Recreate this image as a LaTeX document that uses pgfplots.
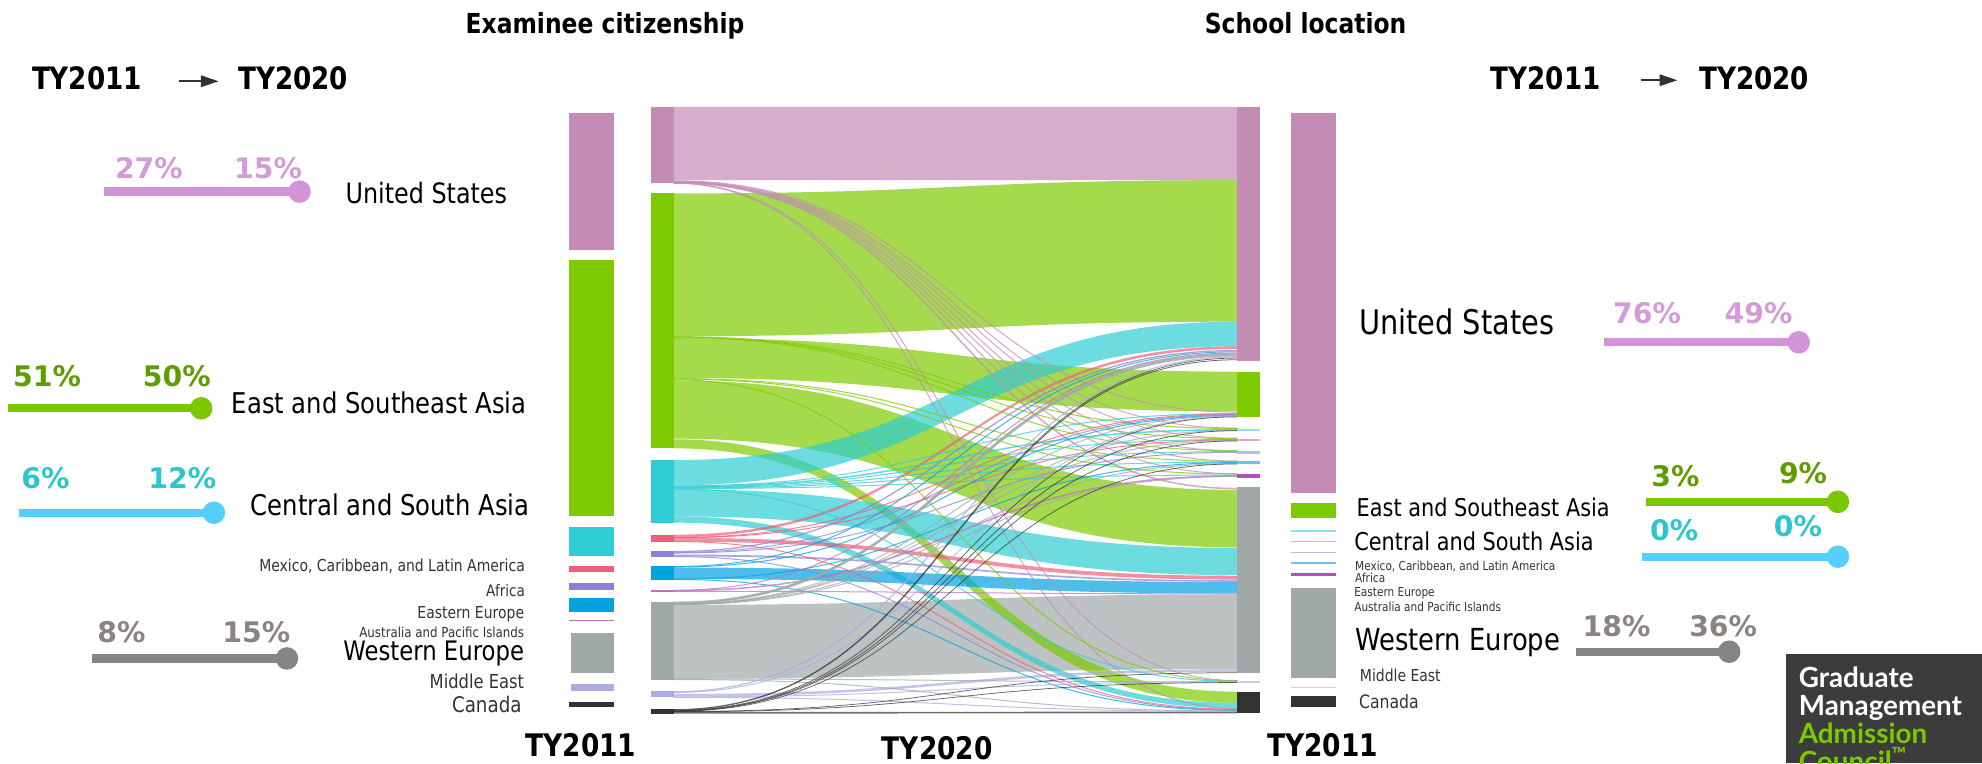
\documentclass[border=0pt]{standalone}
\usepackage{pgfplots}
\pgfplotsset{compat=1.18}
\usepackage{fontspec}
\setmainfont{DejaVu Sans}
\newfontfamily\lab[FakeStretch=0.85]{DejaVu Sans}
\newfontfamily\logof{Lato}
\usetikzlibrary{arrows.meta}

\definecolor{cUS}{HTML}{C48BB5}
\definecolor{cESA}{HTML}{7DCA00}
\definecolor{cCSA}{HTML}{2ECDD3}
\definecolor{cMEX}{HTML}{EE5F78}
\definecolor{cAFR}{HTML}{8B82D6}
\definecolor{cEE}{HTML}{02A3DF}
\definecolor{cAUS}{HTML}{C070C0}
\definecolor{cWE}{HTML}{A0A9A8}
\definecolor{cME}{HTML}{ABABE2}
\definecolor{cCA}{HTML}{333333}
\definecolor{lUS}{HTML}{D194D6}
\definecolor{lESA}{HTML}{7BC700}
\definecolor{lCSA}{HTML}{55CFFF}
\definecolor{lWE}{HTML}{858585}
\definecolor{tUS}{HTML}{D49BD8}
\definecolor{tESA}{HTML}{5E9C00}
\definecolor{tCSA}{HTML}{2DC6D0}
\definecolor{tWE}{HTML}{8B8282}
\definecolor{logo}{HTML}{3B3C3C}
\definecolor{gmac}{HTML}{7DC800}
\definecolor{pCSA}{HTML}{8EE3EC}
\definecolor{pMEX}{HTML}{F2A5B4}
\definecolor{pAFR}{HTML}{BDB7EC}
\definecolor{pEE}{HTML}{6DC3EC}
\definecolor{pAUS}{HTML}{B050C0}
\definecolor{pME}{HTML}{CBCBEF}

\makeatletter
\newdimen\sk@dim
\def\pgfplothandlersankey{%
  \def\pgf@plotstreamstart{%
    \global\let\pgf@plotstreampoint=\sk@firstpoint
    \global\let\pgf@plotstreamspecial=\pgfutil@gobble
    \global\let\pgf@plotstreamend=\pgfutil@empty
  }%
}
\def\sk@firstpoint#1{%
  \pgf@process{#1}%
  \xdef\sk@lastx{\the\pgf@x}\xdef\sk@lasty{\the\pgf@y}%
  \pgfpathmoveto{\pgfqpoint{\sk@lastx}{\sk@lasty}}%
  \global\let\pgf@plotstreampoint=\sk@nextpoint
}
\def\sk@nextpoint#1{%
  \pgf@process{#1}%
  \edef\sk@curx{\the\pgf@x}\edef\sk@cury{\the\pgf@y}%
  \sk@dim=\sk@lastx\relax
  \advance\sk@dim by \sk@curx\relax
  \divide\sk@dim by 2\relax
  \edef\sk@midx{\the\sk@dim}%
  \pgfpathcurveto{\pgfqpoint{\sk@midx}{\sk@lasty}}{\pgfqpoint{\sk@midx}{\sk@cury}}{\pgfqpoint{\sk@curx}{\sk@cury}}%
  \xdef\sk@lastx{\sk@curx}\xdef\sk@lasty{\sk@cury}%
}
\tikzset{sankey/.code={\let\tikz@plot@handler=\pgfplothandlersankey}}
\makeatother

\newcommand\F[1]{\fontsize{#1}{#1}\selectfont}

\pgfplotsset{
  nodebar/.style={fill=#1, draw=none},
  band/.style={sankey, fill=#1, fill opacity=0.7, draw=none},
  thinln/.style={sankey, draw=#1, line width=0.4pt, draw opacity=0.75},
  dbline/.style={color=#1, line width=3.3pt},
  dbdot/.style={only marks, mark=*, mark size=4.25pt, color=#1},
}

\begin{document}
\begin{tikzpicture}
\useasboundingbox (0,0) rectangle (784pt,302pt);
\clip (0,0) rectangle (784pt,302pt);
\begin{axis}[at={(0,0)}, anchor=south west, scale only axis,
  width=784pt, height=302pt,
  xmin=0, xmax=1568, ymin=0, ymax=604, y dir=reverse,
  hide axis, clip=false]

% ---------- flows: TY2020 citizenship (x=533) -> TY2020 school location (x=979)
\addplot[band=cWE]  coordinates {(533,478.5) (979,470.3) (979,529.3) (533,537) (533,478.5)};
\addplot[band=cUS]  coordinates {(533,84.5) (979,84.5) (979,142.5) (533,142.5) (533,84.5)};
\addplot[band=cESA] coordinates {(533,153) (979,142.5) (979,254.5) (533,266) (533,153)};
\addplot[band=cESA] coordinates {(533,267.5) (979,294) (979,325.5) (533,299) (533,267.5)};
\addplot[band=cESA] coordinates {(533,301) (979,387.6) (979,433) (533,347) (533,301)};
\addplot[band=cESA] coordinates {(533,347.5) (979,547.2) (979,556) (533,354.7) (533,347.5)};
\addplot[band=cCSA] coordinates {(533,364) (979,254.5) (979,274) (533,384) (533,364)};
\addplot[band=cCSA] coordinates {(533,387) (979,433.5) (979,455) (533,408.5) (533,387)};
\addplot[band=cCSA] coordinates {(533,408.5) (979,556) (979,560.3) (533,413.5) (533,408.5)};
\addplot[band=cMEX] coordinates {(533,423) (979,274) (979,276) (533,425) (533,423)};
\addplot[band=cMEX] coordinates {(533,425.5) (979,455.5) (979,458.5) (533,428.5) (533,425.5)};
\addplot[band=cAFR] coordinates {(533,438.7) (979,459) (979,460.3) (533,440.2) (533,438.7)};
\addplot[band=cEE]  coordinates {(533,449) (979,460.5) (979,469.5) (533,458) (533,449)};
\addplot[band=cME]  coordinates {(533,549) (979,529.5) (979,531.5) (533,551) (533,549)};
\addplot[band=cCA]  coordinates {(533,563.2) (979,563) (979,564.4) (533,564.5) (533,563.2)};

% ---------- thin flows
% United States citizens
\addplot[thinln=cUS] coordinates {(533,143) (979,326)};
\addplot[thinln=cUS] coordinates {(533,143.4) (979,338.7)};
\addplot[thinln=cUS] coordinates {(533,143.7) (979,346.7)};
\addplot[thinln=cUS] coordinates {(533,144) (979,356.7)};
\addplot[thinln=cUS] coordinates {(533,144.2) (979,364.7)};
\addplot[thinln=cUS] coordinates {(533,144.4) (979,374.8)};
\addplot[thinln=cUS, line width=0.6pt] coordinates {(533,144.6) (979,386.5)};
\addplot[thinln=cUS] coordinates {(533,144.8) (979,538.4)};
\addplot[thinln=cUS] coordinates {(533,145) (979,560.6)};
% East and Southeast Asia citizens
\addplot[thinln=cESA] coordinates {(533,266.3) (979,339)};
\addplot[thinln=cESA] coordinates {(533,266.7) (979,347)};
\addplot[thinln=cESA] coordinates {(533,267) (979,356.5)};
\addplot[thinln=cESA] coordinates {(533,299.5) (979,365)};
\addplot[thinln=cESA] coordinates {(533,300) (979,375)};
\addplot[thinln=cESA] coordinates {(533,300.5) (979,538.6)};
% Central and South Asia citizens
\addplot[thinln=cCSA] coordinates {(533,384.4) (979,327.2)};
\addplot[thinln=cCSA, line width=0.6pt] coordinates {(533,384.9) (979,340)};
\addplot[thinln=cCSA] coordinates {(533,385.3) (979,347.7)};
\addplot[thinln=cCSA] coordinates {(533,385.7) (979,357.3)};
\addplot[thinln=cCSA] coordinates {(533,386.1) (979,365.6)};
\addplot[thinln=cCSA] coordinates {(533,386.5) (979,375.8)};
\addplot[thinln=cCSA] coordinates {(533,386.8) (979,539)};
% Mexico, Caribbean, and Latin America citizens
\addplot[thinln=cMEX] coordinates {(533,425.2) (979,327.5)};
\addplot[thinln=cMEX] coordinates {(533,425.4) (979,348)};
\addplot[thinln=cMEX] coordinates {(533,428.4) (979,561)};
% Africa citizens
\addplot[thinln=cAFR, line width=0.5pt] coordinates {(533,436.3) (979,277.3)};
\addplot[thinln=cAFR] coordinates {(533,437) (979,328)};
\addplot[thinln=cAFR] coordinates {(533,437.5) (979,357.8)};
\addplot[thinln=cAFR] coordinates {(533,440.3) (979,561.5)};
% Eastern Europe citizens
\addplot[thinln=cEE] coordinates {(533,448.2) (979,278.3)};
\addplot[thinln=cEE] coordinates {(533,448.6) (979,328.6)};
\addplot[thinln=cEE] coordinates {(533,458.2) (979,366)};
\addplot[thinln=cEE] coordinates {(533,458.4) (979,562)};
% Australia and Pacific Islands citizens
\addplot[thinln=cAUS] coordinates {(533,467) (979,279.3)};
\addplot[thinln=cAUS, line width=0.6pt] coordinates {(533,467.3) (979,376.5)};
\addplot[thinln=cAUS] coordinates {(533,467.8) (979,469.8)};
% Western Europe citizens
\addplot[thinln=cWE, line width=0.6pt] coordinates {(533,476.5) (979,279.8)};
\addplot[thinln=cWE, line width=0.6pt] coordinates {(533,477) (979,280.6)};
\addplot[thinln=cWE, line width=0.6pt] coordinates {(533,477.5) (979,281.4)};
\addplot[thinln=cWE] coordinates {(533,477.8) (979,329)};
\addplot[thinln=cWE] coordinates {(533,478) (979,340.5)};
\addplot[thinln=cWE] coordinates {(533,478.1) (979,348.5)};
\addplot[thinln=cWE] coordinates {(533,478.2) (979,366.8)};
\addplot[thinln=cWE] coordinates {(533,478.3) (979,377)};
\addplot[thinln=cWE] coordinates {(533,537.2) (979,539.5)};
\addplot[thinln=cWE] coordinates {(533,537.6) (979,562.5)};
% Middle East citizens
\addplot[thinln=cME, line width=0.5pt] coordinates {(533,547.3) (979,282.3)};
\addplot[thinln=cME] coordinates {(533,547.8) (979,329.3)};
\addplot[thinln=cME] coordinates {(533,551.3) (979,539.3)};
\addplot[thinln=cME] coordinates {(533,551.7) (979,562.8)};
% Canada citizens
\addplot[thinln=cCA, line width=0.3pt] coordinates {(533,561.3) (979,283.3)};
\addplot[thinln=cCA, line width=0.3pt] coordinates {(533,561.7) (979,284.6)};
\addplot[thinln=cCA, line width=0.3pt] coordinates {(533,562) (979,329.8)};
\addplot[thinln=cCA, line width=0.3pt] coordinates {(533,562.3) (979,340.7)};
\addplot[thinln=cCA, line width=0.3pt] coordinates {(533,562.5) (979,348.8)};
\addplot[thinln=cCA, line width=0.3pt] coordinates {(533,562.7) (979,367)};
\addplot[thinln=cCA, line width=0.3pt] coordinates {(533,562.9) (979,532.2)};
\addplot[thinln=cCA, line width=0.3pt] coordinates {(533,563.1) (979,540)};

% ---------- node bars: TY2011 citizenship (left)
\addplot[nodebar=cUS]  coordinates {(450,89.7) (485.5,89.7) (485.5,197.8) (450,197.8)};
\addplot[nodebar=cESA] coordinates {(450,205.7) (485.5,205.7) (485.5,408) (450,408)};
\addplot[nodebar=cCSA] coordinates {(450,416.7) (485.5,416.7) (485.5,439.9) (450,439.9)};
\addplot[nodebar=cMEX] coordinates {(450,447.5) (485.5,447.5) (485.5,452.8) (450,452.8)};
\addplot[nodebar=cAFR] coordinates {(450,461) (485.5,461) (485.5,466.8) (450,466.8)};
\addplot[nodebar=cEE]  coordinates {(450,473.4) (485.5,473.4) (485.5,484) (450,484)};
\addplot[nodebar=cAUS] coordinates {(450,490.5) (485.5,490.5) (485.5,491.5) (450,491.5)};
\addplot[nodebar=cWE]  coordinates {(451.5,501) (485.5,501) (485.5,532.7) (451.5,532.7)};
\addplot[nodebar=cME]  coordinates {(451.5,541) (485.5,541) (485.5,547) (451.5,547)};
\addplot[nodebar=cCA]  coordinates {(450,555) (485.5,555) (485.5,559) (450,559)};
% ---------- node bars: TY2020 citizenship (middle)
\addplot[nodebar=cUS]  coordinates {(514.7,84.5) (533,84.5) (533,145) (514.7,145)};
\addplot[nodebar=cESA] coordinates {(514.7,153) (533,153) (533,354.7) (514.7,354.7)};
\addplot[nodebar=cCSA] coordinates {(514.7,364) (533,364) (533,413.5) (514.7,413.5)};
\addplot[nodebar=cMEX] coordinates {(514.7,423) (533,423) (533,428.5) (514.7,428.5)};
\addplot[nodebar=cAFR] coordinates {(514.7,436) (533,436) (533,440.5) (514.7,440.5)};
\addplot[nodebar=cEE]  coordinates {(514.7,448) (533,448) (533,458.5) (514.7,458.5)};
\addplot[nodebar=cAUS] coordinates {(514.7,466.8) (533,466.8) (533,468) (514.7,468)};
\addplot[nodebar=cWE]  coordinates {(514.7,476) (533,476) (533,538) (514.7,538)};
\addplot[nodebar=cME]  coordinates {(514.7,547) (533,547) (533,551.7) (514.7,551.7)};
\addplot[nodebar=cCA]  coordinates {(514.7,561) (533,561) (533,564.5) (514.7,564.5)};
% ---------- node bars: TY2020 school location
\addplot[nodebar=cUS]  coordinates {(978.7,84.4) (996.7,84.4) (996.7,285.6) (978.7,285.6)};
\addplot[nodebar=cESA] coordinates {(978.7,294) (996.7,294) (996.7,330) (978.7,330)};
\addplot[nodebar=pCSA] coordinates {(978.7,339.3) (996.7,339.3) (996.7,341) (978.7,341)};
\addplot[nodebar=pMEX] coordinates {(978.7,347) (996.7,347) (996.7,349) (978.7,349)};
\addplot[nodebar=pAFR] coordinates {(978.7,357) (996.7,357) (996.7,359) (978.7,359)};
\addplot[nodebar=pEE]  coordinates {(978.7,365) (996.7,365) (996.7,367) (978.7,367)};
\addplot[nodebar=pAUS] coordinates {(978.7,374.8) (996.7,374.8) (996.7,378) (978.7,378)};
\addplot[nodebar=cWE]  coordinates {(978.7,385.6) (996.7,385.6) (996.7,532.7) (978.7,532.7)};
\addplot[nodebar=pME]  coordinates {(978.7,538.5) (996.7,538.5) (996.7,540.3) (978.7,540.3)};
\addplot[nodebar=cCA]  coordinates {(978.7,547.2) (996.7,547.2) (996.7,564.4) (978.7,564.4)};
% ---------- node bars: TY2011 school location (right)
\addplot[nodebar=cUS]  coordinates {(1021,89.7) (1056.7,89.7) (1056.7,389.8) (1021,389.8)};
\addplot[nodebar=cESA] coordinates {(1021,397.7) (1056.7,397.7) (1056.7,410.1) (1021,410.1)};
\addplot[nodebar=pCSA] coordinates {(1021,419.3) (1056.7,419.3) (1056.7,420.6) (1021,420.6)};
\addplot[nodebar=pMEX] coordinates {(1021,427.7) (1056.7,427.7) (1056.7,429) (1021,429)};
\addplot[nodebar=pAFR] coordinates {(1021,436.4) (1056.7,436.4) (1056.7,437.7) (1021,437.7)};
\addplot[nodebar=pEE]  coordinates {(1021,445) (1056.7,445) (1056.7,446.4) (1021,446.4)};
\addplot[nodebar=pAUS] coordinates {(1021,453.3) (1056.7,453.3) (1056.7,455.3) (1021,455.3)};
\addplot[nodebar=cWE]  coordinates {(1021,465) (1056.7,465) (1056.7,536.7) (1021,536.7)};
\addplot[nodebar=pME]  coordinates {(1021,543.2) (1056.7,543.2) (1056.7,544.4) (1021,544.4)};
\addplot[nodebar=cCA]  coordinates {(1021,550.7) (1056.7,550.7) (1056.7,559.1) (1021,559.1)};

% ---------- dumbbells (share TY2011 -> TY2020)
\addplot[dbline=lUS]  coordinates {(82,151.6) (237,151.6)};
\addplot[dbdot=lUS]   coordinates {(237,151.6)};
\addplot[dbline=lESA] coordinates {(6.7,323) (159.2,323)};
\addplot[dbdot=lESA]  coordinates {(159.2,323)};
\addplot[dbline=lCSA] coordinates {(15,405.6) (169.2,405.6)};
\addplot[dbdot=lCSA]  coordinates {(169.2,405.6)};
\addplot[dbline=lWE]  coordinates {(72.6,520.9) (227,520.9)};
\addplot[dbdot=lWE]   coordinates {(227,520.9)};
\addplot[dbline=lUS]  coordinates {(1268.9,270.8) (1423,270.8)};
\addplot[dbdot=lUS]   coordinates {(1423,270.8)};
\addplot[dbline=lESA] coordinates {(1302,397) (1454,397)};
\addplot[dbdot=lESA]  coordinates {(1454,397)};
\addplot[dbline=lCSA] coordinates {(1299,440.4) (1454,440.4)};
\addplot[dbdot=lCSA]  coordinates {(1454,440.4)};
\addplot[dbline=lWE]  coordinates {(1247,515.6) (1368,515.6)};
\addplot[dbdot=lWE]   coordinates {(1368,515.6)};

% ---------- header arrows
\addplot[-{Triangle[length=7pt,width=4.5pt]}, line width=0.8pt, color=cCA] coordinates {(141.5,64.3) (173,64.3)};
\addplot[-{Triangle[length=7pt,width=4.5pt]}, line width=0.8pt, color=cCA] coordinates {(1298,63.5) (1327,63.5)};

% ---------- logo box
\addplot[nodebar=logo] coordinates {(1413,517.5) (1568,517.5) (1568,604) (1413,604)};

% ---------- titles and headers
\node[anchor=base west, inner sep=0pt, font=\lab\bfseries\F{10.9}] at (axis cs:368,26.5) {Examinee citizenship};
\node[anchor=base east, inner sep=0pt, font=\lab\bfseries\F{10.9}] at (axis cs:1113,26.5) {School location};
\node[anchor=base west, inner sep=0pt, font=\lab\bfseries\F{12.2}] at (axis cs:25,71.2) {TY2011};
\node[anchor=base west, inner sep=0pt, font=\lab\bfseries\F{12.2}] at (axis cs:188,71.2) {TY2020};
\node[anchor=base west, inner sep=0pt, font=\lab\bfseries\F{12.2}] at (axis cs:1179,71.2) {TY2011};
\node[anchor=base west, inner sep=0pt, font=\lab\bfseries\F{12.2}] at (axis cs:1344,71.2) {TY2020};
\node[anchor=base, inner sep=0pt, font=\lab\bfseries\F{12.3}] at (axis cs:459.6,598.7) {TY2011};
\node[anchor=base, inner sep=0pt, font=\lab\bfseries\F{12.3}] at (axis cs:741.5,600.5) {TY2020};
\node[anchor=base, inner sep=0pt, font=\lab\bfseries\F{12.3}] at (axis cs:1046.4,598.7) {TY2011};

% ---------- percentages
\node[anchor=base west, inner sep=0pt, font=\bfseries\F{11.2}, text=tUS] at (axis cs:90.6,141) {27\%};
\node[anchor=base west, inner sep=0pt, font=\bfseries\F{11.2}, text=tUS] at (axis cs:184.8,141) {15\%};
\node[anchor=base west, inner sep=0pt, font=\bfseries\F{11.2}, text=tESA] at (axis cs:10,305.9) {51\%};
\node[anchor=base west, inner sep=0pt, font=\bfseries\F{11.2}, text=tESA] at (axis cs:112.6,305.9) {50\%};
\node[anchor=base west, inner sep=0pt, font=\bfseries\F{11.2}, text=tCSA] at (axis cs:16.6,386.4) {6\%};
\node[anchor=base west, inner sep=0pt, font=\bfseries\F{11.2}, text=tCSA] at (axis cs:117,386.4) {12\%};
\node[anchor=base west, inner sep=0pt, font=\bfseries\F{11.2}, text=tWE] at (axis cs:76.6,508.5) {8\%};
\node[anchor=base west, inner sep=0pt, font=\bfseries\F{11.2}, text=tWE] at (axis cs:175.5,508.5) {15\%};
\node[anchor=base west, inner sep=0pt, font=\bfseries\F{11.2}, text=tUS] at (axis cs:1275.8,256) {76\%};
\node[anchor=base west, inner sep=0pt, font=\bfseries\F{11.2}, text=tUS] at (axis cs:1364,256) {49\%};
\node[anchor=base west, inner sep=0pt, font=\bfseries\F{11.2}, text=tESA] at (axis cs:1306,385) {3\%};
\node[anchor=base west, inner sep=0pt, font=\bfseries\F{11.2}, text=tESA] at (axis cs:1407,382.4) {9\%};
\node[anchor=base west, inner sep=0pt, font=\bfseries\F{11.2}, text=tCSA] at (axis cs:1305,427.3) {0\%};
\node[anchor=base west, inner sep=0pt, font=\bfseries\F{11.2}, text=tCSA] at (axis cs:1403,424.6) {0\%};
\node[anchor=base west, inner sep=0pt, font=\bfseries\F{11.2}, text=tWE] at (axis cs:1251.6,503.7) {18\%};
\node[anchor=base west, inner sep=0pt, font=\bfseries\F{11.2}, text=tWE] at (axis cs:1336,503.7) {36\%};

% ---------- left labels
\node[anchor=base west, inner sep=0pt, font=\lab\F{11.1}] at (axis cs:273,160.9) {United States};
\node[anchor=base west, inner sep=0pt, font=\lab\F{11.3}] at (axis cs:183,327) {East and Southeast Asia};
\node[anchor=base west, inner sep=0pt, font=\lab\F{11.3}] at (axis cs:198,407.5) {Central and South Asia};
\node[anchor=base east, inner sep=0pt, font=\lab\F{6.5}, text=cCA] at (axis cs:415.6,452) {Mexico, Caribbean, and Latin America};
\node[anchor=base east, inner sep=0pt, font=\lab\F{6.3}, text=cCA] at (axis cs:415.6,472) {Africa};
\node[anchor=base east, inner sep=0pt, font=\lab\F{6.5}, text=cCA] at (axis cs:415,489) {Eastern Europe};
\node[anchor=base east, inner sep=0pt, font=\lab\F{5.5}, text=cCA] at (axis cs:415,504.3) {Australia and Pacific Islands};
\node[anchor=base east, inner sep=0pt, font=\lab\F{10.6}] at (axis cs:415,522.5) {Western Europe};
\node[anchor=base east, inner sep=0pt, font=\lab\F{7.6}, text=cCA] at (axis cs:415,545) {Middle East};
\node[anchor=base east, inner sep=0pt, font=\lab\F{8.5}, text=cCA] at (axis cs:413,564) {Canada};

% ---------- right labels
\node[anchor=base west, inner sep=0pt, font=\lab\F{13.4}] at (axis cs:1074.8,265) {United States};
\node[anchor=base west, inner sep=0pt, font=\lab\F{9.7}] at (axis cs:1072.9,408.8) {East and Southeast Asia};
\node[anchor=base west, inner sep=0pt, font=\lab\F{9.7}] at (axis cs:1071,435.7) {Central and South Asia};
\node[anchor=base west, inner sep=0pt, font=\lab\F{4.9}, text=cCA] at (axis cs:1071.7,451) {Mexico, Caribbean, and Latin America};
\node[anchor=base west, inner sep=0pt, font=\lab\F{4.9}, text=cCA] at (axis cs:1071.7,460.5) {Africa};
\node[anchor=base west, inner sep=0pt, font=\lab\F{4.9}, text=cCA] at (axis cs:1071,472.2) {Eastern Europe};
\node[anchor=base west, inner sep=0pt, font=\lab\F{4.9}, text=cCA] at (axis cs:1071,484) {Australia and Pacific Islands};
\node[anchor=base west, inner sep=0pt, font=\lab\F{12}] at (axis cs:1072,514.4) {Western Europe};
\node[anchor=base west, inner sep=0pt, font=\lab\F{6.5}, text=cCA] at (axis cs:1075.5,539.3) {Middle East};
\node[anchor=base west, inner sep=0pt, font=\lab\F{7.3}, text=cCA] at (axis cs:1074.8,560.4) {Canada};

% ---------- logo text
\node[anchor=base west, inner sep=0pt, font=\logof\bfseries\F{11}, text=white] at (axis cs:1422.7,544) {Graduate};
\node[anchor=base west, inner sep=0pt, font=\logof\bfseries\F{11}, text=white] at (axis cs:1422.7,566) {Management};
\node[anchor=base west, inner sep=0pt, font=\logof\bfseries\F{11}, text=gmac] at (axis cs:1422.7,588) {Admission};
\node[anchor=base west, inner sep=0pt, font=\logof\bfseries\F{11}, text=gmac] at (axis cs:1422.7,610) {Council\textsuperscript{™}};
\end{axis}
\end{tikzpicture}
\end{document}
